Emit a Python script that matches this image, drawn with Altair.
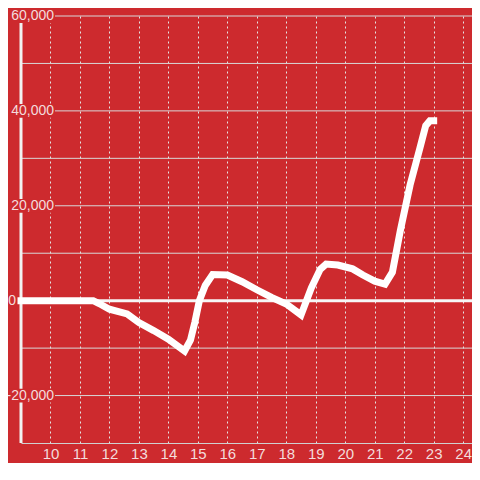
import altair as alt
import pandas as pd

# ---- data ----
hours = [9.0, 11.45, 11.65, 12.0, 12.6, 13.0, 13.5, 14.0, 14.55, 14.75, 14.9, 15.05,
         15.25, 15.5, 16.0, 16.5, 17.0, 17.5, 18.0, 18.5, 18.85, 19.15, 19.35, 19.75,
         20.25, 20.6, 21.0, 21.35, 21.6, 21.87, 22.2, 22.53, 22.73, 22.87, 23.0]
values = [0, 0, -600, -1800, -2800, -4600, -6300, -8100, -10600, -8300, -4500, 0,
          3200, 5500, 5400, 4000, 2300, 700, -700, -3000, 2700, 6600, 7700, 7500,
          6700, 5400, 4100, 3500, 6000, 14800, 24400, 32100, 36900, 37900, 37900]

grid_values = [-20000, -10000, 0, 10000, 20000, 30000, 40000, 50000, 60000]
label_values = [-20000, 0, 20000, 40000, 60000]
label_texts = ["-20,000", "0", "20,000", "40,000", "60,000"]
x_ticks = [10, 11, 12, 13, 14, 15, 16, 17, 18, 19, 20, 21, 22, 23, 24]

BG = "#cd2a2e"
LBL = "#f3dcdc"
GRID = "#d8d8d8"
FONT = "Liberation Sans"
W, H = 451, 427

line_df = pd.DataFrame({"h": hours, "value": values})
grid_df = pd.DataFrame({"v": grid_values})
label_df = pd.DataFrame({"v": label_values, "t": label_texts})
zero_df = pd.DataFrame({"v": [0]})

xscale = alt.Scale(domain=[9, 24.3], nice=False, zero=False)
yscale = alt.Scale(domain=[-30000, 60000], nice=False, zero=False)

xaxis = alt.Axis(values=x_ticks, grid=True, gridDash=[2, 3], gridColor="#e4e4e4",
                 gridWidth=1, domainColor="#d0d0d0", domainWidth=1, ticks=False,
                 labelFontSize=15, labelColor=LBL, labelFont=FONT, labelPadding=3,
                 labelBound=False, labelOverlap=False,
                 title=None, format="d")

grid = alt.Chart(grid_df).mark_rule(color=GRID, strokeWidth=1).encode(
    y=alt.Y("v:Q", scale=yscale, axis=None))

axisline = alt.Chart(zero_df).mark_rule(color="#f2f2f2", strokeWidth=3).encode(
    x=alt.value(0), y=alt.value(0), y2=alt.value(H))

zero = alt.Chart(zero_df).mark_rule(color="#f6f6f6", strokeWidth=3).encode(
    y=alt.Y("v:Q", scale=yscale, axis=None))

boxes = alt.Chart(label_df).transform_filter("datum.v != 0").transform_calculate(
    lo="datum.v - 1450", hi="datum.v + 1450"
).mark_rect(color=BG).encode(
    x=alt.value(-13), x2=alt.value(34),
    y=alt.Y("lo:Q", scale=yscale, axis=None), y2="hi:Q")

labels = alt.Chart(label_df).transform_filter("datum.v != 0").mark_text(
    align="right", baseline="middle", fontSize=14, color=LBL, font=FONT
).encode(x=alt.value(33), y=alt.Y("v:Q", scale=yscale, axis=None), text="t:N")

zero_label = alt.Chart(label_df).transform_filter("datum.v == 0").mark_text(
    align="right", baseline="middle", fontSize=14, color=LBL, font=FONT
).encode(x=alt.value(-5), y=alt.Y("v:Q", scale=yscale, axis=None), text="t:N")

line = alt.Chart(line_df).mark_line(
    color="white", strokeWidth=7, strokeCap="square", strokeJoin="miter"
).encode(
    x=alt.X("h:Q", scale=xscale, axis=xaxis),
    y=alt.Y("value:Q", scale=yscale, axis=None))

chart = alt.layer(grid, axisline, zero, boxes, labels, zero_label, line).properties(
    width=W, height=H, background=BG,
    padding={"left": 13, "top": 8, "right": 0, "bottom": 20},
    autosize=alt.AutoSizeParams(type="none"),
).configure_view(strokeWidth=0)

chart.save("out.html", embed_options={"renderer": "svg", "actions": False})
